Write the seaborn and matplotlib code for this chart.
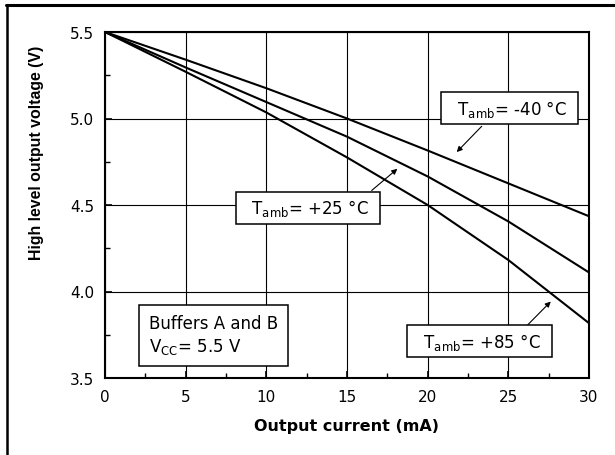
import matplotlib
matplotlib.use("Agg")
import matplotlib.pyplot as plt
import seaborn as sns
import pandas as pd
from matplotlib.lines import Line2D
from matplotlib.ticker import MultipleLocator

# ---- data ----
current_mA = [0, 5, 10, 15, 20, 25, 30]
v_m40 = [5.5, 5.34, 5.175, 5.0, 4.815, 4.625, 4.435]
v_p25 = [5.5, 5.295, 5.095, 4.895, 4.665, 4.405, 4.11]
v_p85 = [5.5, 5.27, 5.035, 4.775, 4.5, 4.182, 3.817]
series_names = ["-40 °C", "+25 °C", "+85 °C"]
x_ticks = [0, 5, 10, 15, 20, 25, 30]
y_ticks = [3.5, 4.0, 4.5, 5.0, 5.5]

rows = []
for name, vals in zip(series_names, [v_m40, v_p25, v_p85]):
    for x, v in zip(current_mA, vals):
        rows.append({"I": x, "V": v, "T": name})
df = pd.DataFrame(rows)

sns.set_style("white")
plt.rcParams["font.family"] = ["DejaVu Sans"]
plt.rcParams["mathtext.default"] = "regular"
for k in ["text.color", "axes.labelcolor", "xtick.color", "ytick.color"]:
    plt.rcParams[k] = "black"

fig = plt.figure(figsize=(6.15, 4.56), dpi=100)
ax = fig.add_axes([105 / 615, 1 - 379 / 456, 484 / 615, 346 / 456])

sns.lineplot(data=df, x="I", y="V", hue="T",
             palette=["black", "black", "black"], linewidth=1.5,
             legend=False, ax=ax, zorder=3)

ax.set_xlim(0, 30)
ax.set_ylim(3.5, 5.5)
ax.set_xticks(x_ticks)
ax.set_yticks(y_ticks)
ax.set_xticklabels([str(t) for t in x_ticks])
ax.set_yticklabels([f"{t:.1f}" for t in y_ticks])
ax.xaxis.set_minor_locator(MultipleLocator(2.5))
ax.yaxis.set_minor_locator(MultipleLocator(0.25))
ax.grid(True, which="major", color="black", linewidth=0.8)
ax.tick_params(which="major", direction="in", length=5, width=1.2,
               labelsize=11, pad=8, colors="black", left=True, bottom=True)
ax.tick_params(which="minor", direction="in", length=3.5, width=1.0,
               left=True, bottom=True)
for s in ax.spines.values():
    s.set_color("black")
    s.set_linewidth(1.5)

ax.set_xlabel("Output current (mA)", fontsize=11.5, fontweight="bold")
ax.xaxis.label.set_va("center")
ax.xaxis.set_label_coords(0.5, -0.136)
ax.set_ylabel("")
ax.text(-0.1405, 0.653, "High level output voltage (V)", transform=ax.transAxes,
        rotation=90, ha="center", va="center", fontsize=11.4,
        fontweight="bold", family=["Liberation Sans", "DejaVu Sans"])

bbox = dict(boxstyle="square,pad=0.32", fc="white", ec="black", lw=1.1)

ax.text(25.08, 5.059, "  T$_{amb}$= -40 °C  ", ha="center", va="center",
        fontsize=12, bbox=bbox, zorder=5)
ax.text(12.59, 4.484, "  T$_{amb}$= +25 °C  ", ha="center", va="center",
        fontsize=12, bbox=bbox, zorder=5)
ax.text(23.23, 3.712, "  T$_{amb}$= +85 °C  ", ha="center", va="center",
        fontsize=12, bbox=bbox, zorder=5)
ax.text(6.73, 3.747, "Buffers A and B\nV$_{CC}$= 5.5 V", ha="center",
        va="center", multialignment="left", fontsize=12, linespacing=1.25,
        bbox=dict(boxstyle="square,pad=0.6", fc="white", ec="black", lw=1.1),
        zorder=5)

arrow = dict(arrowstyle="-|>", color="black", lw=0.8, mutation_scale=8,
             shrinkA=0, shrinkB=0)
ax.annotate("", xy=(21.8, 4.806), xytext=(23.35, 4.955), arrowprops=arrow, zorder=4)
ax.annotate("", xy=(18.12, 4.709), xytext=(16.53, 4.584), arrowprops=arrow, zorder=4)
ax.annotate("", xy=(27.63, 3.942), xytext=(26.2, 3.807), arrowprops=arrow, zorder=4)

# outer frame (top and left edges)
fig.add_artist(Line2D([6 / 615, 1], [1 - 6 / 456, 1 - 6 / 456],
                      transform=fig.transFigure, color="black", lw=2.2))
fig.add_artist(Line2D([7 / 615, 7 / 615], [0, 1 - 6 / 456],
                      transform=fig.transFigure, color="black", lw=1.8))

fig.savefig("out.png", dpi=100, facecolor="white")
